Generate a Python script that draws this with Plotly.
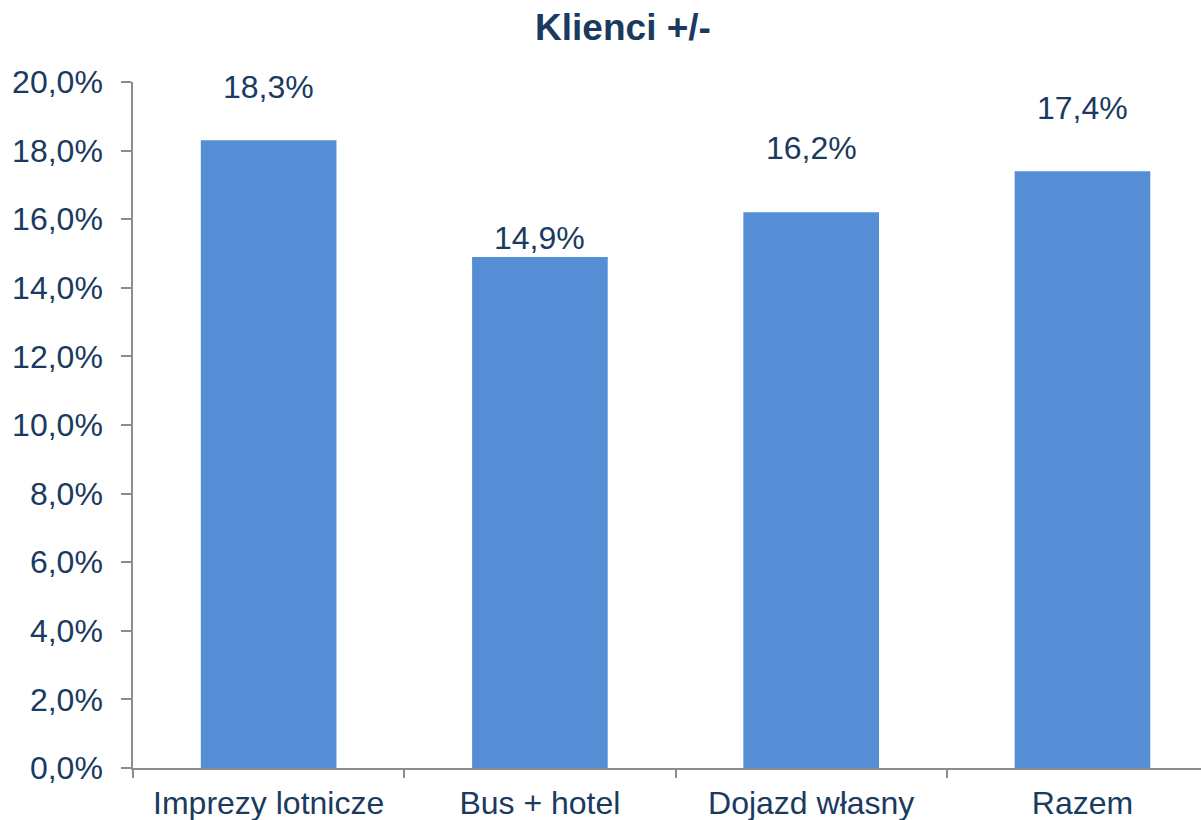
import plotly.graph_objects as go

categories = ["Imprezy lotnicze", "Bus + hotel", "Dojazd własny", "Razem"]
values = [0.183, 0.149, 0.162, 0.174]
label_texts = ["18,3%", "14,9%", "16,2%", "17,4%"]
label_shift_px = [53, 19, 64, 63]
y_tick_vals = [0.0, 0.02, 0.04, 0.06, 0.08, 0.10, 0.12, 0.14, 0.16, 0.18, 0.20]

TEXT = "#1A3A60"
AXIS = "#8C8C8C"
FONT = "Arial, Liberation Sans, sans-serif"

fig = go.Figure()
fig.add_trace(go.Bar(
    x=categories, y=values, width=0.5,
    marker=dict(color="#558ED5", line=dict(width=0)),
    hoverinfo="skip",
))

for c, v, t, s in zip(categories, values, label_texts, label_shift_px):
    fig.add_annotation(x=c, y=v, text=t, showarrow=False, yanchor="middle",
                       yshift=s, font=dict(family=FONT, size=32, color=TEXT))

fig.update_layout(
    width=1201, height=820,
    margin=dict(l=133, r=0, t=82, b=52, autoexpand=False),
    paper_bgcolor="white", plot_bgcolor="white",
    separators=",.",
    showlegend=False,
    bargap=0.5,
    title=dict(text="<b>Klienci +/-</b>", x=623/1201, xanchor="center",
               xref="container", y=1 - 27/820, yref="container", yanchor="middle",
               font=dict(family=FONT, size=37, color=TEXT)),
    font=dict(family=FONT, color=TEXT),
)
fig.update_xaxes(
    type="category", range=[-0.5, 3.437],
    showline=True, linecolor=AXIS, linewidth=1.5,
    ticks="outside", ticklen=8, tickcolor=AXIS, tickwidth=1.5,
    tickson="boundaries", showgrid=False,
    tickfont=dict(family=FONT, size=32, color=TEXT),
    ticklabelstandoff=6,
)
fig.update_yaxes(
    range=[0, 0.2], tickvals=y_tick_vals, tickformat=".1%",
    showline=True, linecolor=AXIS, linewidth=1.5,
    ticks="outside", ticklen=10, tickcolor=AXIS, tickwidth=1.5,
    showgrid=False, zeroline=False,
    tickfont=dict(family=FONT, size=32, color=TEXT),
    ticklabelstandoff=12,
)

fig.write_html("out.html", config={"displayModeBar": False},
               post_script="document.body.style.margin='0';document.body.style.padding='0';")
